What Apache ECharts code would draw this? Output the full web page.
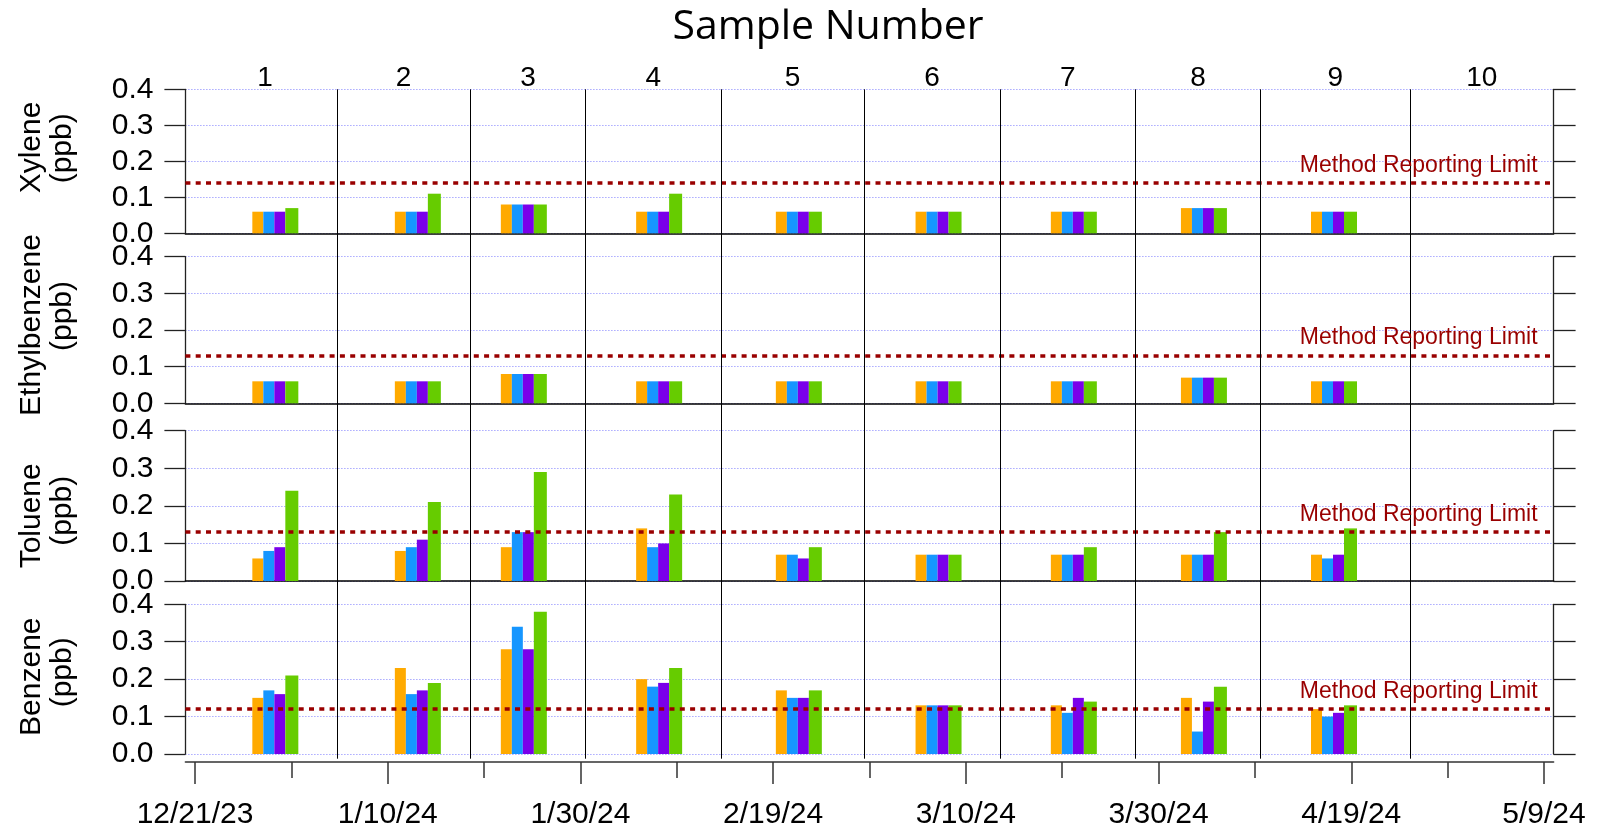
<!DOCTYPE html>
<html>
<head>
<meta charset="utf-8">
<script src="https://cdn.jsdelivr.net/npm/echarts@6/dist/echarts.min.js"></script>
<style>
html,body{margin:0;padding:0;background:#fff;}
#chart{width:1613px;height:830px;}
</style>
</head>
<body>
<div id="chart"></div>
<script>
// ---------------- DATA ----------------
const compounds = ['Xylene', 'Ethylbenzene', 'Toluene', 'Benzene'];
const unitLabel = '(ppb)';
const sampleNumbers = ['1', '2', '3', '4', '5', '6', '7', '8', '9', '10'];
// sample period boundaries (first = label anchor for sample 1, last = end of record)
const sampleBounds = ['2023-12-20 20:00', '2024-01-04 17:00', '2024-01-18 13:30', '2024-01-30 13:00',
  '2024-02-13 13:30', '2024-02-28 11:00', '2024-03-13 13:00', '2024-03-27 14:40',
  '2024-04-09 14:00', '2024-04-25 02:00', '2024-05-11 01:00'];
// dates at which each sample's bars are plotted
const sampleDates = ['2023-12-29 08:00', '2024-01-13 03:00', '2024-01-24 03:00', '2024-02-07 04:00',
  '2024-02-21 16:00', '2024-03-07 04:00', '2024-03-21 05:00', '2024-04-03 17:00', '2024-04-17 05:00'];
const seriesNames = ['Series A', 'Series B', 'Series C', 'Series D'];

const xylene = [
  [0.06, 0.06, 0.08, 0.06, 0.06, 0.06, 0.06, 0.07, 0.06],
  [0.06, 0.06, 0.08, 0.06, 0.06, 0.06, 0.06, 0.07, 0.06],
  [0.06, 0.06, 0.08, 0.06, 0.06, 0.06, 0.06, 0.07, 0.06],
  [0.07, 0.11, 0.08, 0.11, 0.06, 0.06, 0.06, 0.07, 0.06]
];
const ethylbenzene = [
  [0.06, 0.06, 0.08, 0.06, 0.06, 0.06, 0.06, 0.07, 0.06],
  [0.06, 0.06, 0.08, 0.06, 0.06, 0.06, 0.06, 0.07, 0.06],
  [0.06, 0.06, 0.08, 0.06, 0.06, 0.06, 0.06, 0.07, 0.06],
  [0.06, 0.06, 0.08, 0.06, 0.06, 0.06, 0.06, 0.07, 0.06]
];
const toluene = [
  [0.06, 0.08, 0.09, 0.14, 0.07, 0.07, 0.07, 0.07, 0.07],
  [0.08, 0.09, 0.13, 0.09, 0.07, 0.07, 0.07, 0.07, 0.06],
  [0.09, 0.11, 0.13, 0.10, 0.06, 0.07, 0.07, 0.07, 0.07],
  [0.24, 0.21, 0.29, 0.23, 0.09, 0.07, 0.09, 0.13, 0.14]
];
const benzene = [
  [0.15, 0.23, 0.28, 0.20, 0.17, 0.13, 0.13, 0.15, 0.12],
  [0.17, 0.16, 0.34, 0.18, 0.15, 0.13, 0.11, 0.06, 0.10],
  [0.16, 0.17, 0.28, 0.19, 0.15, 0.13, 0.15, 0.14, 0.11],
  [0.21, 0.19, 0.38, 0.23, 0.17, 0.13, 0.14, 0.18, 0.13]
];
const reportingLimits = [0.145, 0.13, 0.13, 0.12];
const dateTickLabels = ['12/21/23', '1/10/24', '1/30/24', '2/19/24', '3/10/24', '3/30/24', '4/19/24', '5/9/24'];
const axisStart = '2023-12-20 00:00';
const axisEnd = '2024-05-10 00:00';

// ---------------- STYLE / LAYOUT ----------------
const panelValues = [xylene, ethylbenzene, toluene, benzene];
const colors = ['#ffaa00', '#1696ff', '#7a00ea', '#66cc00'];
const barWidths = [11, 11, 11, 13];
const FONT = 'Liberation Sans, Arial, Helvetica, sans-serif';
const panelBoxes = [ // [top, bottom] in px
  [89.3, 233.3], [256.7, 403.3], [430.7, 581], [604.3, 758.7]
];
// y-centres of the rotated axis title lines [name, unit]
const titleCenters = [[147.5, 148.3], [325, 316], [515.8, 510.8], [676.7, 672.3]];
const H = 830, LEFT = 185.4, RIGHT = 59.4;

function ts(s) {
  const [d, t] = s.split(' ');
  const [y, m, dd] = d.split('-').map(Number);
  const [hh, mm] = (t || '00:00').split(':').map(Number);
  return new Date(y, m - 1, dd, hh, mm).getTime();
}
function parseLabel(l) {
  const [m, d, y] = l.split('/').map(Number);
  return new Date(2000 + y, m - 1, d).getTime();
}
const xMin = ts(axisStart), xMax = ts(axisEnd);
const majorTicks = dateTickLabels.map(parseLabel);
const minorTicks = majorTicks.slice(0, -1).map((v, i) => (v + majorTicks[i + 1]) / 2);
function labelFor(v) {
  let best = 0, bd = Infinity;
  majorTicks.forEach((t, i) => { const dd = Math.abs(t - v); if (dd < bd) { bd = dd; best = i; } });
  return dateTickLabels[best];
}

const axisColor = '#222';
const grid = [], xAxis = [], yAxis = [], series = [], graphic = [];

panelBoxes.forEach((b, i) => {
  grid.push({ left: LEFT, right: RIGHT, top: b[0], bottom: H - b[1], containLabel: false });
  xAxis.push({
    type: 'value', gridIndex: i, min: xMin, max: xMax,
    axisLine: { show: i < 3, onZero: false, lineStyle: { color: '#000', width: 1.5 } },
    axisTick: { show: false }, axisLabel: { show: false }, splitLine: { show: false }
  });
});
panelBoxes.forEach((b, i) => {
  yAxis.push({
    type: 'value', gridIndex: i, position: 'left', min: 0, max: 0.4, interval: 0.1,
    axisLine: { show: true, lineStyle: { color: axisColor, width: 1.3 } },
    axisTick: { show: true, inside: false, length: 21, lineStyle: { color: axisColor, width: 1.3 } },
    axisLabel: { show: true, formatter: v => v.toFixed(1), fontFamily: FONT, fontSize: 30, color: '#000', margin: 32 },
    splitLine: { show: true, lineStyle: { color: '#7f7fff', type: [1, 2], width: 1 } }
  });
  // rotated axis titles
  [compounds[i], unitLabel].forEach((txt, li) => {
    graphic.push({
      type: 'text', x: li === 0 ? 32 : 63, y: titleCenters[i][li], rotation: Math.PI / 2, silent: true,
      style: {
        text: txt, fontFamily: FONT, fontSize: 30, fill: '#000',
        align: 'center', verticalAlign: 'middle', textAlign: 'center', textVerticalAlign: 'middle'
      }
    });
  });
});
panelBoxes.forEach((b, i) => {
  yAxis.push({
    type: 'value', gridIndex: i, position: 'right', min: 0, max: 0.4, interval: 0.1,
    axisLine: { show: true, lineStyle: { color: axisColor, width: 1.3 } },
    axisTick: { show: true, inside: false, length: 22, lineStyle: { color: axisColor, width: 1.3 } },
    axisLabel: { show: false }, splitLine: { show: false }
  });
});

// overlay grid for sample dividers and sample numbers
grid.push({ left: LEFT, right: RIGHT, top: panelBoxes[0][0], bottom: H - panelBoxes[3][1] });
xAxis.push({ type: 'value', gridIndex: 4, min: xMin, max: xMax, show: false });
yAxis.push({ type: 'value', gridIndex: 4, min: 0, max: 1, show: false });

// bottom date axes (major with labels, minor ticks)
xAxis.push({
  type: 'value', gridIndex: 3, position: 'bottom', offset: 8, min: xMin, max: xMax,
  axisLine: { show: true, onZero: false, lineStyle: { color: '#333', width: 1.5 } },
  axisTick: { show: true, length: 22, customValues: majorTicks, lineStyle: { color: '#333', width: 1.5 } },
  axisLabel: { show: true, customValues: majorTicks, formatter: v => labelFor(v), fontFamily: FONT, fontSize: 30, color: '#000', margin: 38 },
  splitLine: { show: false }
});
xAxis.push({
  type: 'value', gridIndex: 3, position: 'bottom', offset: 8, min: xMin, max: xMax,
  axisLine: { show: false, onZero: false },
  axisTick: { show: true, length: 16, customValues: minorTicks, lineStyle: { color: '#333', width: 1.5 } },
  axisLabel: { show: false }, splitLine: { show: false }
});

// bars + reporting limits
panelValues.forEach((vals, i) => {
  vals.forEach((row, k) => {
    series.push({
      type: 'bar', name: seriesNames[k], xAxisIndex: i, yAxisIndex: i,
      barWidth: barWidths[k], barGap: '0%',
      itemStyle: { color: colors[k] },
      data: sampleDates.map((d, j) => [ts(d), row[j]])
    });
  });
  series.push({
    type: 'line', xAxisIndex: i, yAxisIndex: i, data: [], z: 5,
    markLine: {
      silent: true, symbol: ['none', 'none'], animation: false,
      lineStyle: { color: '#990000', width: 3.5, type: [5, 5.3] },
      label: {
        show: true, position: 'insideEndTop', formatter: 'Method Reporting Limit',
        color: '#990000', fontFamily: FONT, fontSize: 23, distance: 6, padding: [0, 10, 0, 0]
      },
      emphasis: { disabled: true },
      data: [{ yAxis: reportingLimits[i] }]
    }
  });
});

series.push({
  type: 'line', xAxisIndex: 4, yAxisIndex: 8, data: [], z: 4,
  markLine: {
    silent: true, symbol: ['none', 'none'], animation: false,
    lineStyle: { color: '#000', width: 1, type: 'solid' },
    label: { show: false }, emphasis: { disabled: true },
    data: sampleBounds.slice(1, -1).map(d => ({ xAxis: ts(d) }))
  },
  markArea: {
    silent: true, itemStyle: { color: 'rgba(0,0,0,0)' },
    label: { show: true, position: 'top', distance: -3, color: '#000', fontFamily: FONT, fontSize: 28 },
    emphasis: { disabled: true },
    data: sampleNumbers.map((n, k) => [{ name: n, xAxis: ts(sampleBounds[k]) }, { xAxis: ts(sampleBounds[k + 1]) }])
  }
});

const chart = echarts.init(document.getElementById('chart'), null, { renderer: 'canvas' });
chart.setOption({
  animation: false,
  backgroundColor: '#fff',
  title: {
    text: 'Sample Number', left: 823, top: 2, textAlign: 'center',
    textStyle: { fontFamily: 'Open Sans, sans-serif', fontSize: 41, fontWeight: 'normal', color: '#000' }
  },
  graphic,
  grid, xAxis, yAxis, series
});
</script>
</body>
</html>
